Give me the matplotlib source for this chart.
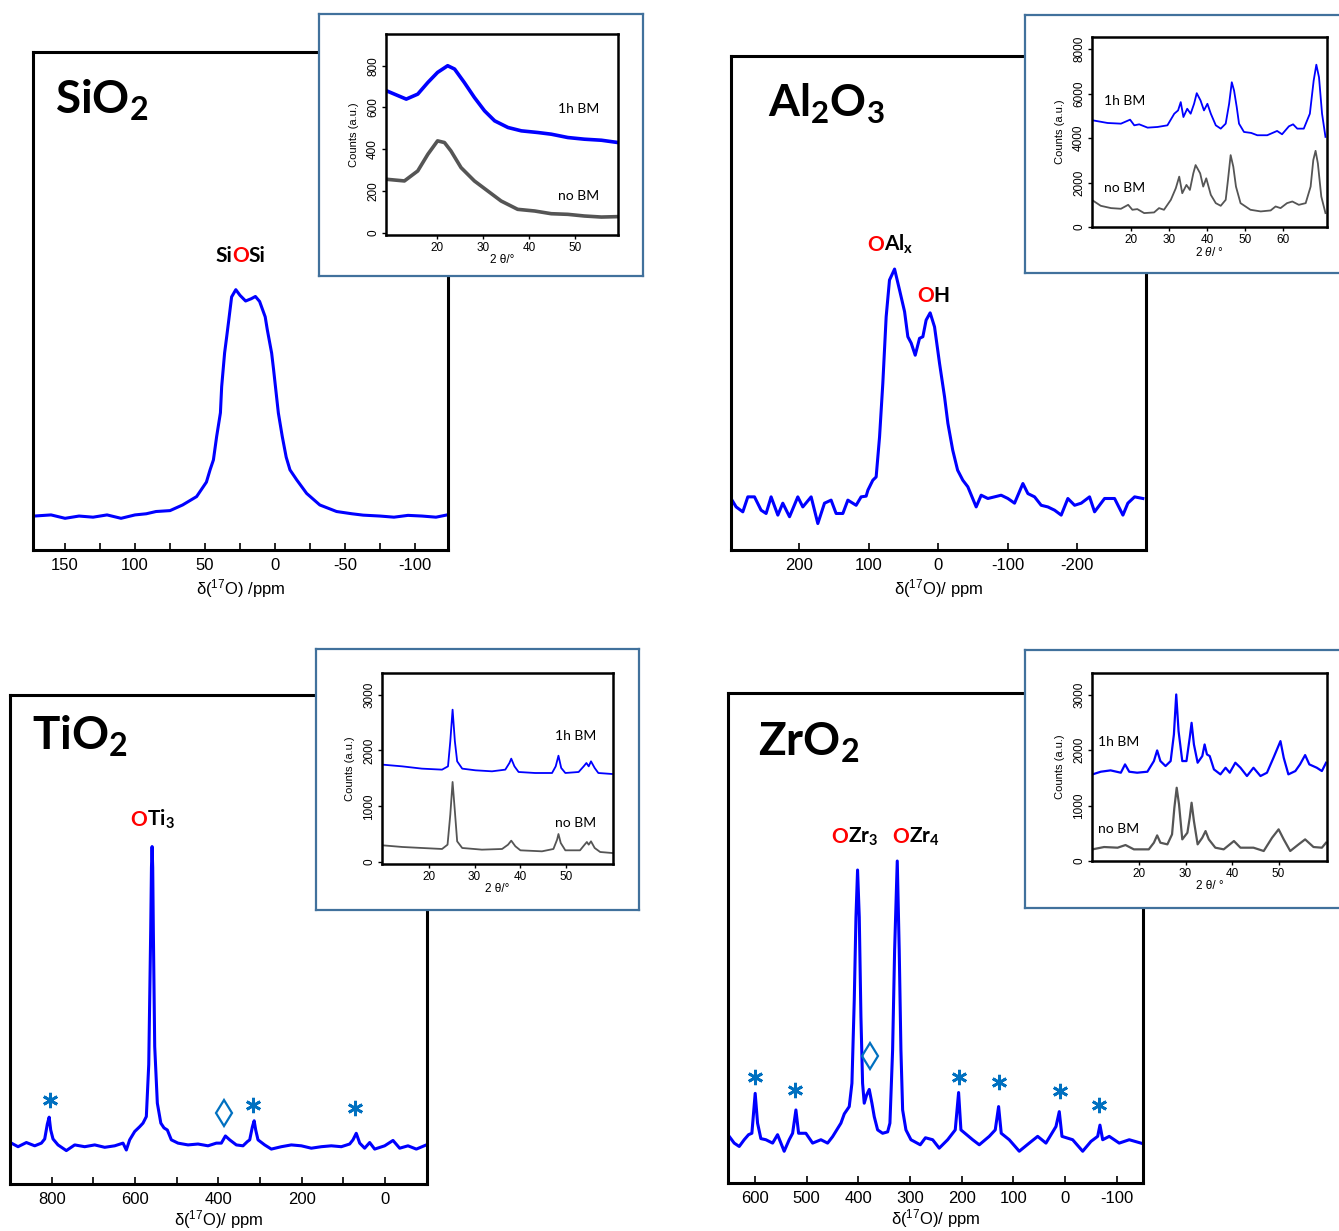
import matplotlib
matplotlib.use("Agg")
import matplotlib.pyplot as plt
import matplotlib.transforms as mtransforms

plt.rcParams['font.family'] = 'Liberation Sans'
plt.rcParams['mathtext.fontset'] = 'custom'
plt.rcParams['mathtext.rm'] = 'Liberation Sans'
plt.rcParams['mathtext.it'] = 'Liberation Sans:italic'
plt.rcParams['mathtext.bf'] = 'Lato:bold'
plt.rcParams['axes.unicode_minus'] = False

# ---- 17O NMR spectra (ppm, normalised intensity) ----
sio2_ppm = [172, 160, 150, 140, 130, 120, 110, 100, 92, 85, 75, 66, 56, 49, 46.4, 44, 41.7, 39, 38.1,
            36, 34.5, 33, 31, 28, 25, 21, 17, 14, 11, 7, 5.5, 2.4, 1, -2.4, -5.2, -8, -10.7, -15.5,
            -22.6, -32, -44, -55, -63, -75, -85, -95, -105, -115, -123]
sio2_int = [0.0, 0.005, -0.01, 0.0, -0.005, 0.005, -0.01, 0.005, 0.01, 0.02, 0.024, 0.049, 0.086, 0.15,
            0.204, 0.248, 0.351, 0.456, 0.572, 0.721, 0.793, 0.867, 0.968, 1.0, 0.975, 0.95, 0.96, 0.97,
            0.948, 0.88, 0.823, 0.72, 0.646, 0.455, 0.351, 0.26, 0.204, 0.16, 0.1, 0.049, 0.02, 0.01,
            0.004, 0.0, -0.005, 0.003, 0.0, -0.005, 0.005]

al2o3_ppm = [298, 290.6, 281, 273.8, 264.2, 254.7, 247.5, 240.3, 230.6, 223.5, 213.8, 201.9, 194.7,
             182.7, 173.1, 163.5, 154, 146.8, 137.1, 129.9, 118, 110.8, 103.6,
             101, 94, 89.2, 84.3, 79.6, 74.8, 70, 62.7, 55.5, 48.3, 43.6, 38.8, 33, 26.8, 22, 17.3,
             11.5, 5.2, -2, -9.2, -14, -21, -28, -35.5, -42.7, -54.7,
             -61.9, -71.5, -81.1, -90.6, -100.3, -109.9, -121.9, -129.1, -138.7, -148.2, -157.8,
             -167.5, -177, -186.6, -196.3, -205.8, -217.8, -225, -239.4, -253.8, -265.8, -272.9,
             -282.6, -294.5]
al2o3_int = [0.020, -0.016, -0.037, 0.027, 0.027, -0.030, -0.044, 0.027, -0.051, 0.0, -0.058, 0.027,
             -0.016, 0.027, -0.087, 0.0, 0.013, -0.044, -0.044, 0.013, -0.009, 0.027, 0.03,
             0.056, 0.098, 0.112, 0.283, 0.512, 0.796, 0.953, 1.0, 0.910, 0.818, 0.711, 0.684, 0.632,
             0.704, 0.711, 0.782, 0.813, 0.753, 0.597, 0.454, 0.341, 0.226, 0.141, 0.098, 0.07, -0.016,
             0.034, 0.020, 0.027, 0.034, 0.020, 0.0, 0.084, 0.041, 0.027, -0.009, -0.016, -0.030,
             -0.051, 0.020, -0.009, 0.0, 0.027, -0.037, 0.020, 0.020, -0.051, 0.0, 0.027, 0.020]

tio2_ppm = [896.7, 880.7, 860.7, 840.7, 824.7, 816.7, 810.4, 806, 802.3, 796.8, 784.8, 764.8, 744.7,
            720.7, 696.7, 672.7, 648.7, 628.8, 620.8, 612.8, 600.7, 588.8, 580.8, 572.8, 567, 562.3,
            560.5, 559, 557.5, 556, 552.7, 546.4, 538, 530.4, 522.4, 512.8, 496.8, 472.8, 448.8, 424.8,
            404.8, 392.8, 383, 372.8, 356.8, 340.8, 330.4, 324.7, 318.4, 314, 310.3, 304.8, 288.8,
            272.8, 248.8, 224.8, 200.8, 176.9, 152.9, 128.9, 104.9, 84.8, 76.8, 69, 60.7, 48.8, 36.8,
            24.8, 0.8, -19.2, -35.2, -55.2, -75.2, -99.2]
tio2_int = [0.006, -0.006, 0.008, -0.003, 0.006, 0.02, 0.07, 0.093, 0.05, 0.02, 0.0, -0.019, 0.0,
            -0.006, 0.0, -0.008, -0.003, 0.006, -0.017, 0.017, 0.045, 0.061, 0.073, 0.095, 0.27, 0.72,
            0.93, 1.0, 0.93, 0.72, 0.33, 0.14, 0.073, 0.057, 0.05, 0.017, 0.006, 0.0, 0.003, -0.003,
            0.006, 0.006, 0.03, 0.017, 0.0, -0.003, 0.011, 0.017, 0.06, 0.081, 0.05, 0.017, 0.0,
            -0.014, -0.006, 0.0, -0.003, -0.011, -0.006, -0.003, -0.006, 0.003, 0.017, 0.039, 0.006,
            -0.011, 0.008, -0.014, -0.003, 0.015, -0.011, -0.003, -0.014, 0.0]

zro2_ppm = [649.7, 640, 630.3, 620.7, 612.2, 605.8, 599.4, 594.8, 588.4, 578.7, 565.7, 556.1, 543.3,
            533.6, 527, 520.6, 515.4, 501.3, 488.3, 472.2, 459.3, 449.6, 433.5, 427, 417.4, 412.2,
            407.7, 404.4, 401.3, 398, 394.8, 391.6, 388.4, 383.8, 378.7, 373.5, 369, 362.5, 352.8,
            343.1, 338.7, 333.5, 329.6, 324.5, 320.7, 317.4, 314.1, 307.7, 298, 280, 270, 256, 243.3,
            227, 212.3, 205.8, 201.3, 178.6, 165.8, 146.5, 134.9, 128.4, 123.3, 107.8, 88.4, 69.1,
            52.8, 36.8, 17.4, 11, 5.8, -14.9, -34.3, -50.3, -63.3, -67.7, -73, -85.7, -105, -124.4,
            -147]
zro2_int = [0.02, -0.004, -0.016, 0.008, 0.026, 0.031, 0.173, 0.067, 0.012, 0.008, -0.004, 0.026,
            -0.033, 0.008, 0.031, 0.114, 0.031, 0.031, -0.004, 0.008, -0.004, 0.019, 0.067, 0.10,
            0.126, 0.209, 0.505, 0.80, 0.968, 0.80, 0.446, 0.209, 0.138, 0.167, 0.187, 0.138, 0.09,
            0.043, 0.031, 0.036, 0.067, 0.327, 0.683, 1.0, 0.683, 0.327, 0.114, 0.043, 0.008, -0.01,
            0.015, 0.008, -0.022, 0.008, 0.043, 0.176, 0.043, 0.008, -0.01, 0.02, 0.043, 0.126, 0.031,
            0.008, -0.033, -0.004, 0.02, -0.004, 0.055, 0.108, 0.02, 0.008, -0.033, 0.002, 0.02, 0.06,
            0.008, 0.02, -0.004, 0.008, -0.004]

# spinning sidebands (*) and impurity (diamond) marks
tio2_star_ppm = [804, 317, 72]
tio2_star_y = [0.151, 0.134, 0.124]
tio2_dia_ppm = [386]
tio2_dia_y = [0.107]
zro2_star_ppm = [600, 522, 205, 128, 10, -66]
zro2_star_y = [0.231, 0.185, 0.231, 0.214, 0.181, 0.132]
zro2_dia_ppm = [377]
zro2_dia_y = [0.306]

# ---- XRD insets (2theta, counts) ----
si_tt_bm = [9, 13.3, 15.8, 18, 20.1, 22.3, 23.8, 25.9, 28.1, 30.3, 32.5, 35.4, 38.3, 41.9, 44.8, 48.4,
            52, 55.7, 59.3]
si_cnt_bm = [680, 640, 664, 720, 768, 800, 784, 720, 648, 584, 536, 504, 488, 480, 472, 456, 448, 443, 432]
si_tt_no = [9, 12.9, 15.8, 18, 20.1, 21.6, 23, 25.2, 28.1, 31, 33.9, 37.5, 41.2, 44.8, 48.4, 52, 55.7, 59.3]
si_cnt_no = [256, 248, 296, 376, 440, 432, 392, 312, 248, 200, 152, 112, 104, 91, 88, 80, 75, 77]

al_tt_bm = [10, 13.9, 17.4, 19.8, 20.9, 22.2, 24.4, 27, 29.6, 31.4, 32.4, 33.1, 33.8, 34.8, 35.7, 36.6,
            37.3, 38.3, 39.2, 40.1, 41, 42.3, 43.6, 44.9, 45.8, 46.5, 47.1, 47.8, 48.4, 49.7, 51.6, 53.2,
            55.8, 58.4, 59.7, 61.5, 62.6, 63.7, 65.4, 67, 68, 68.7, 69.4, 70.2, 71.1]
al_cnt_bm = [4794, 4675, 4645, 4824, 4570, 4615, 4466, 4496, 4570, 5092, 5240, 5613, 4943, 5315, 5092,
             5538, 6015, 5687, 5240, 5538, 5092, 4570, 4421, 4645, 5538, 6506, 6134, 5389, 4645, 4272,
             4228, 4124, 4124, 4317, 4168, 4526, 4615, 4421, 4421, 5092, 6580, 7295, 6729, 5092, 4049]
al_tt_no = [10, 12.1, 14.8, 17.4, 19.3, 20.4, 21.7, 23.5, 26.1, 27.4, 28.7, 30.5, 31.8, 32.7, 33.5,
            34.6, 35.5, 36.4, 37, 38.2, 39, 39.8, 41, 42.3, 43.6, 44.9, 45.5, 46.2, 46.9, 47.6, 48.8,
            51.4, 54.1, 56.7, 58, 59.3, 61, 62.4, 64.1, 65.9, 67.2, 67.9, 68.5, 69.1, 70, 71.1]
al_cnt_no = [1191, 953, 849, 819, 997, 774, 804, 625, 655, 849, 774, 1221, 1742, 2263, 1519, 1891, 1667,
             2412, 2784, 2412, 1816, 2188, 1444, 1072, 953, 1221, 2114, 3231, 2710, 1816, 1072, 774,
             700, 744, 923, 849, 1072, 1146, 997, 1072, 1816, 3007, 3424, 2858, 1370, 625]

ti_tt_bm = [10, 14.2, 18.5, 22.9, 24.2, 24.7, 25.2, 25.7, 26.2, 27.3, 30.2, 33.8, 36.7, 37.6, 38, 38.7,
            39.6, 43.2, 46.9, 47.7, 48.3, 48.9, 49.8, 52.7, 53.8, 54.4, 54.9, 55.4, 56.2, 57, 60]
ti_cnt_bm = [1746, 1716, 1675, 1657, 1716, 2164, 2731, 2164, 1806, 1675, 1645, 1627, 1657, 1776, 1854,
             1716, 1615, 1597, 1597, 1716, 1907, 1687, 1597, 1615, 1716, 1776, 1716, 1806, 1687, 1597, 1579]
ti_tt_no = [10, 14.2, 18.5, 22.9, 24.1, 24.7, 25.2, 25.7, 26.2, 27.3, 31.6, 36, 37.3, 38, 38.9, 40, 44.7,
            47.2, 48, 48.3, 48.8, 49.8, 53, 54, 54.5, 54.9, 55.4, 56.2, 57.4, 60]
ti_cnt_no = [301, 272, 254, 236, 313, 851, 1436, 910, 373, 254, 224, 236, 313, 385, 284, 212, 194, 236,
             403, 504, 343, 212, 212, 313, 361, 313, 373, 254, 182, 164]

zr_tt_bm = [10, 11.8, 13.9, 16.1, 17, 17.9, 19.6, 21.8, 23.2, 23.9, 24.6, 25.7, 26.8, 27.5, 28, 28.5,
            29.3, 30.2, 30.9, 31.3, 31.8, 32.6, 33.6, 34.1, 34.6, 35.2, 36.1, 37.5, 38.6, 39.5, 40.7,
            41.8, 43.2, 44.6, 46.1, 47.5, 48.9, 49.8, 50.4, 51.1, 52.1, 53.6, 54.6, 55.7, 56.6, 58.2,
            59.3, 60.2]
zr_cnt_bm = [1562, 1610, 1634, 1592, 1742, 1610, 1592, 1610, 1802, 1994, 1802, 1712, 1802, 2282, 3003,
             2342, 1802, 1802, 2222, 2492, 2102, 1772, 1892, 2102, 1922, 1892, 1652, 1562, 1682, 1592,
             1772, 1682, 1532, 1682, 1532, 1592, 1862, 2042, 2162, 1862, 1562, 1622, 1742, 1910, 1742,
             1682, 1622, 1772]
zr_tt_no = [10, 12.5, 15.4, 17.1, 18.9, 22.1, 23.2, 23.9, 24.6, 26.1, 27.1, 27.6, 28.1, 28.6, 29.3,
            30.4, 30.9, 31.3, 31.8, 32.6, 33.6, 34.3, 35, 36.4, 38.2, 40.4, 41.8, 44.6, 46.8, 48.6, 50,
            51.1, 52.5, 54.3, 55.7, 57.5, 59.3, 60.2]
zr_cnt_no = [210, 252, 240, 288, 210, 210, 330, 462, 330, 300, 480, 961, 1321, 1021, 390, 510, 781,
             1051, 721, 300, 420, 540, 390, 240, 210, 360, 240, 240, 180, 420, 571, 390, 180, 300, 390,
             252, 240, 330]

W, H = 1339, 1231
fig = plt.figure(figsize=(W / 100, H / 100), dpi=100)
renderer = fig.canvas.get_renderer()

NMR_BLUE = '#0000FF'
MARK = '#0070C0'
FRAME = '#41719C'


def rect(x0, y0, x1, y1):
    # pixel box -> figure fraction
    return [x0 / W, 1 - y1 / H, (x1 - x0) / W, (y1 - y0) / H]


def color_text(ax, x, y, parts, size):
    tr = ax.transAxes
    for s, c in parts:
        t = ax.text(x, y, s, color=c, transform=tr, fontsize=size, family='Lato',
                    fontweight='bold', va='baseline', ha='left', zorder=4)
        w = t.get_window_extent(renderer=renderer).width
        tr = mtransforms.offset_copy(t.get_transform(), x=w, units='dots')


def nmr_panel(box, ppm, inten, xlim, ylim, major, minor, xlabel, lpad=3):
    ax = fig.add_axes(rect(*box))
    ax.plot(ppm, inten, color=NMR_BLUE, lw=2.2)
    ax.set_xlim(*xlim)
    ax.set_ylim(*ylim)
    ax.set_yticks([])
    ax.set_xticks(major)
    ax.set_xticklabels([str(v) for v in major])
    ax.set_xticks(minor, minor=True)
    ax.tick_params(axis='x', which='both', direction='in', length=5, width=1.2, labelsize=12, pad=6)
    for s in ax.spines.values():
        s.set_linewidth(2.2)
    ax.set_xlabel(xlabel, fontsize=12, labelpad=lpad)
    return ax


def xrd_inset(frame, box, xlim, ylim, xt, yt, bm, no, lw, xlabel, lab_bm, lab_no):
    fr = fig.add_axes(rect(*frame))
    fr.set_xticks([])
    fr.set_yticks([])
    for s in fr.spines.values():
        s.set_color(FRAME)
        s.set_linewidth(1.6)
    fr.set_zorder(5)
    ia = fig.add_axes(rect(*box))
    ia.set_zorder(6)
    ia.plot(no[0], no[1], color='#555555', lw=lw)
    ia.plot(bm[0], bm[1], color='#0000FF', lw=lw)
    ia.set_xlim(*xlim)
    ia.set_ylim(*ylim)
    ia.set_xticks(xt)
    ia.set_yticks(yt)
    ia.tick_params(direction='out', length=3, width=1, labelsize=8.5, pad=2)
    ia.tick_params(axis='y', labelrotation=90)
    for lbl in ia.get_yticklabels():
        lbl.set_va('center')
    for s in ia.spines.values():
        s.set_linewidth(1.8)
    ia.set_ylabel('Counts (a.u.)', fontsize=8, labelpad=6)
    ia.set_xlabel(xlabel, fontsize=8.5, labelpad=0)
    ia.text(lab_bm[0], lab_bm[1], '1h BM', transform=ia.transAxes, family='Lato', fontsize=10,
            va='center', ha='left')
    ia.text(lab_no[0], lab_no[1], 'no BM', transform=ia.transAxes, family='Lato', fontsize=10,
            va='center', ha='left')
    return ia


# ---- SiO2 ----
axA = nmr_panel((33, 52, 448, 550), sio2_ppm, sio2_int, (172.9, -123.6), (-0.15, 2.05),
                [150, 100, 50, 0, -50, -100], [125, 75, 25, -25, -75], r"δ($^{17}$O) /ppm")
axA.text(0.053, 0.877, r"SiO$_\mathbf{2}$", transform=axA.transAxes, family='Lato',
         fontweight='bold', fontsize=33, va='baseline')
color_text(axA, 0.439, 0.578, [("Si", "black"), ("O", "red"), ("Si", "black")], 15)

# ---- Al2O3 ----
axB = nmr_panel((731, 56, 1146, 550), al2o3_ppm, al2o3_int, (298, -299), (-0.2, 1.91),
                [200, 100, 0, -100, -200], [], r"δ($^{17}$O)/ ppm")
axB.text(0.089, 0.877, r"Al$_\mathbf{2}$O$_\mathbf{3}$", transform=axB.transAxes, family='Lato',
         fontweight='bold', fontsize=32, va='baseline')
color_text(axB, 0.328, 0.605, [("O", "red"), (r"Al$_\mathbf{x}$", "black")], 15)
color_text(axB, 0.448, 0.502, [("O", "red"), ("H", "black")], 15)

# ---- TiO2 ----
axC = nmr_panel((10, 695, 427, 1184), tio2_ppm, tio2_int, (900, -100.8), (-0.131, 1.508),
                [800, 600, 400, 200, 0], [700, 500, 300, 100], r"δ($^{17}$O)/ ppm", lpad=0.5)
axC.text(0.053, 0.888, r"TiO$_\mathbf{2}$", transform=axC.transAxes, family='Lato',
         fontweight='bold', fontsize=33, va='baseline')
color_text(axC, 0.288, 0.732, [("O", "red"), (r"Ti$_\mathbf{3}$", "black")], 15)
axC.plot(tio2_star_ppm, tio2_star_y, ls='none', marker=(6, 2, 0), ms=11, mew=2, color=MARK)
axC.plot(tio2_dia_ppm, tio2_dia_y, ls='none', marker='d', ms=13, mew=1.6, mfc='none', mec=MARK)

# ---- ZrO2 ----
axD = nmr_panel((728, 693, 1143, 1183), zro2_ppm, zro2_int, (652, -151), (-0.146, 1.598),
                [600, 500, 400, 300, 200, 100, 0, -100], [], r"δ($^{17}$O)/ ppm", lpad=0.5)
axD.text(0.072, 0.873, r"ZrO$_\mathbf{2}$", transform=axD.transAxes, family='Lato',
         fontweight='bold', fontsize=33, va='baseline')
color_text(axD, 0.248, 0.694, [("O", "red"), (r"Zr$_\mathbf{3}$", "black")], 15)
color_text(axD, 0.395, 0.694, [("O", "red"), (r"Zr$_\mathbf{4}$", "black")], 15)
axD.plot(zro2_star_ppm, zro2_star_y, ls='none', marker=(6, 2, 0), ms=11, mew=2, color=MARK)
axD.plot(zro2_dia_ppm, zro2_dia_y, ls='none', marker='d', ms=13, mew=1.6, mfc='none', mec=MARK)

# ---- XRD insets ----
xrd_inset((319, 14, 643, 276), (386, 34, 618, 235), (8.9, 59.3), (-11, 952),
          [20, 30, 40, 50], [0, 200, 400, 600, 800], (si_tt_bm, si_cnt_bm), (si_tt_no, si_cnt_no),
          2.6, "2 θ/°", (0.741, 0.626), (0.741, 0.193))
xrd_inset((1025, 15, 1345, 273), (1092, 37, 1327, 227), (9.8, 71.5), (0, 8540),
          [20, 30, 40, 50, 60], [0, 2000, 4000, 6000, 8000], (al_tt_bm, al_cnt_bm),
          (al_tt_no, al_cnt_no), 1.3, r"2 $\theta$/ °", (0.052, 0.663), (0.052, 0.206))
xrd_inset((316, 649, 639, 910), (382, 673, 613, 864), (9.8, 60.2), (-33, 3388),
          [20, 30, 40, 50], [0, 1000, 2000, 3000], (ti_tt_bm, ti_cnt_bm), (ti_tt_no, ti_cnt_no),
          1.3, "2 θ/°", (0.75, 0.67), (0.75, 0.215))
xrd_inset((1025, 650, 1345, 908), (1092, 673, 1327, 861), (9.9, 60.4), (0, 3390),
          [20, 30, 40, 50], [0, 1000, 2000, 3000], (zr_tt_bm, zr_cnt_bm), (zr_tt_no, zr_cnt_no),
          1.6, "2 θ/ °", (0.027, 0.634), (0.027, 0.172))

fig.savefig("out.png", dpi=100)
